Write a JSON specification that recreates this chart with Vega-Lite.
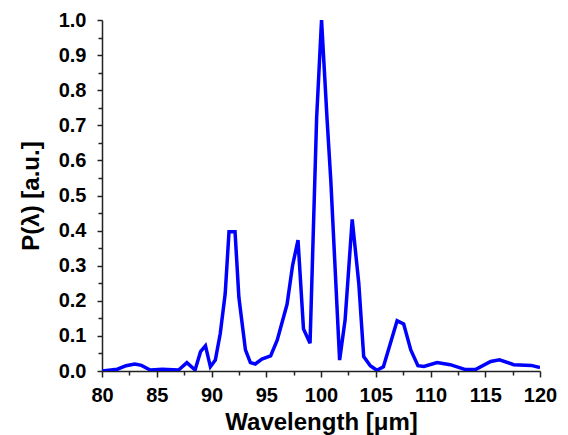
{
  "$schema": "https://vega.github.io/schema/vega-lite/v6.json",
  "autosize": "none",
  "width": 438,
  "height": 351,
  "padding": {"left": 102, "top": 20, "right": 28, "bottom": 64},
  "background": "white",
  "config": {
    "view": {"stroke": null},
    "axis": {
      "grid": false,
      "domainColor": "#222222",
      "domainWidth": 1.5,
      "tickColor": "#222222",
      "tickWidth": 1.5,
      "labelFont": "Liberation Sans",
      "labelFontWeight": "bold",
      "labelFontSize": 20,
      "labelColor": "black",
      "titleFont": "Liberation Sans",
      "titleFontWeight": "bold",
      "titleFontSize": 24,
      "titleColor": "black"
    }
  },
  "data": {
    "values": [
      {"w": 80.0, "p": 0.0},
      {"w": 81.4, "p": 0.005},
      {"w": 82.2, "p": 0.015},
      {"w": 83.0, "p": 0.02},
      {"w": 83.6, "p": 0.016},
      {"w": 84.4, "p": 0.003},
      {"w": 85.5, "p": 0.005},
      {"w": 87.0, "p": 0.003},
      {"w": 87.75, "p": 0.024},
      {"w": 88.5, "p": 0.003},
      {"w": 89.0, "p": 0.055},
      {"w": 89.45, "p": 0.072},
      {"w": 89.9, "p": 0.012},
      {"w": 90.35, "p": 0.031},
      {"w": 90.8, "p": 0.107},
      {"w": 91.25, "p": 0.22},
      {"w": 91.6, "p": 0.397},
      {"w": 92.15, "p": 0.397},
      {"w": 92.5, "p": 0.21},
      {"w": 93.1, "p": 0.06},
      {"w": 93.55, "p": 0.024},
      {"w": 94.0, "p": 0.02},
      {"w": 94.6, "p": 0.034},
      {"w": 95.4, "p": 0.043},
      {"w": 96.0, "p": 0.088},
      {"w": 96.9, "p": 0.19},
      {"w": 97.4, "p": 0.30},
      {"w": 97.9, "p": 0.373},
      {"w": 98.4, "p": 0.12},
      {"w": 99.0, "p": 0.079},
      {"w": 99.6, "p": 0.72},
      {"w": 100.05, "p": 1.0},
      {"w": 100.55, "p": 0.72},
      {"w": 100.9, "p": 0.54},
      {"w": 101.7, "p": 0.031},
      {"w": 102.2, "p": 0.145},
      {"w": 102.85, "p": 0.432},
      {"w": 103.45, "p": 0.25},
      {"w": 103.9, "p": 0.041},
      {"w": 104.5, "p": 0.015},
      {"w": 105.1, "p": 0.002},
      {"w": 105.7, "p": 0.012},
      {"w": 106.95, "p": 0.143},
      {"w": 107.55, "p": 0.134},
      {"w": 108.2, "p": 0.06},
      {"w": 108.85, "p": 0.015},
      {"w": 109.4, "p": 0.013},
      {"w": 110.6, "p": 0.024},
      {"w": 111.8, "p": 0.018},
      {"w": 113.2, "p": 0.004},
      {"w": 114.1, "p": 0.004},
      {"w": 115.5, "p": 0.027},
      {"w": 116.3, "p": 0.032},
      {"w": 117.6, "p": 0.018},
      {"w": 119.2, "p": 0.016},
      {"w": 120.0, "p": 0.01}
    ]
  },
  "resolve": {"axis": {"x": "independent", "y": "independent"}},
  "layer": [
    {
      "mark": {"type": "line", "color": "#0000FF", "strokeWidth": 3.5, "clip": true},
      "encoding": {
        "x": {
          "field": "w", "type": "quantitative",
          "scale": {"domain": [80, 120], "nice": false, "zero": false},
          "axis": {
            "orient": "bottom",
            "title": "Wavelength [μm]",
            "values": [80, 85, 90, 95, 100, 105, 110, 115, 120],
            "tickSize": 6,
            "labelPadding": 8,
            "titlePadding": 5,
            "labelFlush": false
          }
        },
        "y": {
          "field": "p", "type": "quantitative",
          "scale": {"domain": [0, 1], "nice": false},
          "axis": {
            "orient": "left",
            "title": "P(λ) [a.u.]",
            "values": [0, 0.1, 0.2, 0.3, 0.4, 0.5, 0.6, 0.7, 0.8, 0.9, 1.0],
            "format": ".1f",
            "tickSize": 5,
            "labelPadding": 11,
            "titlePadding": 15,
            "labelFlush": false
          }
        }
      }
    },
    {
      "mark": {"type": "line", "opacity": 0},
      "encoding": {
        "x": {
          "field": "w", "type": "quantitative",
          "axis": {
            "orient": "bottom",
            "title": null,
            "values": [82.5, 87.5, 92.5, 97.5, 102.5, 107.5, 112.5, 117.5],
            "labels": false,
            "tickSize": 4,
            "domain": false
          }
        },
        "y": {
          "field": "p", "type": "quantitative",
          "axis": {
            "orient": "left",
            "title": null,
            "values": [0.05, 0.15, 0.25, 0.35, 0.45, 0.55, 0.65, 0.75, 0.85, 0.95],
            "labels": false,
            "tickSize": 4,
            "domain": false
          }
        }
      }
    }
  ]
}
